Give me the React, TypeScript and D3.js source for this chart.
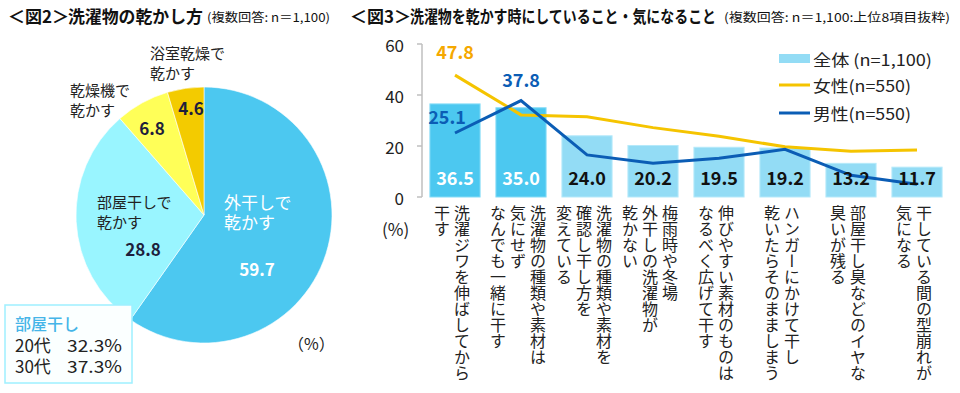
import React from 'react';
import * as d3 from 'd3';

// ---- data: fig 2 (pie) ----
const pieNames = ['外干しで乾かす', '部屋干しで乾かす', '乾燥機で乾かす', '浴室乾燥で乾かす'];
const pieValues = [59.7, 28.8, 6.8, 4.6];
const roomDryAges = ['20代', '30代'];
const roomDryRates = ['32.3%', '37.3%'];

// ---- data: fig 3 (bars + lines) ----
const categories = [
  '洗濯ジワを伸ばしてから|干す',
  '洗濯物の種類や素材は|気にせず|なんでも一緒に干す',
  '洗濯物の種類や素材を|確認し干し方を|変えている',
  '梅雨時や冬場|外干しの洗濯物が|乾かない',
  '伸びやすい素材のものは|なるべく広げて干す',
  'ハンガーにかけて干し|乾いたらそのまましまう',
  '部屋干し臭などのイヤな|臭いが残る',
  '干している間の型崩れが|気になる',
];
const totalValues = [36.5, 35.0, 24.0, 20.2, 19.5, 19.2, 13.2, 11.7];
const femaleValues = [47.8, 32.2, 31.5, 27.2, 23.8, 19.7, 17.9, 18.4];
const maleValues = [25.1, 37.8, 16.5, 13.2, 15.2, 18.7, 8.5, 5.0];
const yTicks = [0, 20, 40, 60];
const legendLabels = ['全体 (n=1,100)', '女性(n=550)', '男性(n=550)'];

const FONT = '"Noto Sans CJK JP", "Noto Sans", sans-serif';
const PIE_COLORS = ['#4cc8f0', '#99f5ff', '#ffff58', '#f3cb00'];
const BAR_DARK = '#4cc8f0';
const BAR_LIGHT = '#93dcf5';
const FEMALE = '#f5c400';
const MALE = '#0b5db5';

// label layout for the pie, relative to pie center
const pieLabelLayout = [
  { nx: 20, ny: -14, vx: 53, vy: 53, size: 17 },
  { nx: -107, ny: -14, vx: -61, vy: 33, size: 15 },
  { nx: -134, ny: -126, vx: -52, vy: -88, size: 15 },
  { nx: -54, ny: -163, vx: -13, vy: -108, size: 15 },
];

function PieChart() {
  const cx = 204, cy = 215, r = 128;
  const pie = d3.pie<number>().sort(null).value(d => d);
  const arcs = pie(pieValues);
  const arc = d3.arc<d3.PieArcDatum<number>>().innerRadius(0).outerRadius(r);

  const nameLines = (name: string) => {
    const i = name.indexOf('で');
    return [name.slice(0, i + 1), name.slice(i + 1)];
  };

  return (
    <g transform={`translate(${cx},${cy})`}>
      {arcs.map((a, i) => (
        <path key={i} d={arc(a) || ''} fill={PIE_COLORS[i]} stroke="#ffffff" strokeWidth={0.6} />
      ))}
      {arcs.map((a, i) => {
        const L = pieLabelLayout[i];
        const lines = nameLines(pieNames[i]);
        return (
          <g key={'l' + i}>
            {lines.map((t, j) => (
              <text key={j} x={L.nx} y={L.ny + j * 20} fontSize={L.size} fill={i === 0 ? '#fff' : '#222'}
                dominantBaseline="central" textAnchor="start">{t}</text>
            ))}
            <text x={L.vx} y={L.vy} fontSize={17} fontWeight="bold" fill={i === 0 ? '#fff' : '#1e1e3c'}
              textAnchor="middle" dominantBaseline="central">{pieValues[i].toFixed(1)}</text>
          </g>
        );
      })}
    </g>
  );
}

function BarChart() {
  const x = d3.scaleBand<string>().domain(categories).range([422, 950]).paddingInner(0.24).paddingOuter(0.12);
  const y = d3.scaleLinear().domain([0, 60]).range([197, 44]);
  const cx = (i: number) => (x(categories[i]) || 0) + x.bandwidth() / 2;

  const line = d3.line<number>().x((_, i) => cx(i)).y(d => y(d));

  return (
    <g>
      {/* axis */}
      <line x1={422} x2={422} y1={y(0)} y2={y(60)} stroke="#bfbfbf" strokeWidth={1.5} />
      {yTicks.map(t => (
        <g key={t}>
          <line x1={417} x2={422} y1={y(t)} y2={y(t)} stroke="#bfbfbf" strokeWidth={1.5} />
          <text x={404} y={y(t)} fontSize={17} textAnchor="end" dominantBaseline="central" fill="#222">{t}</text>
        </g>
      ))}
      <text x={382} y={228} fontSize={17} dominantBaseline="central" fill="#222">(%)</text>

      {/* bars */}
      {totalValues.map((v, i) => (
        <rect key={i} x={x(categories[i])} y={y(v)} width={x.bandwidth()} height={y(0) - y(v)}
          fill={i < 2 ? BAR_DARK : BAR_LIGHT} stroke={i < 2 ? '#86dcf7' : '#b5e9fa'} strokeWidth={1} />
      ))}

      {/* lines */}
      <path d={line(femaleValues) || ''} fill="none" stroke={FEMALE} strokeWidth={3} />
      <path d={line(maleValues) || ''} fill="none" stroke={MALE} strokeWidth={3} />

      {/* bar values */}
      {totalValues.map((v, i) => (
        <text key={'v' + i} x={cx(i)} y={177} fontSize={18} fontWeight="bold" textAnchor="middle"
          dominantBaseline="central" fill={i < 2 ? '#fff' : '#111'}>{v.toFixed(1)}</text>
      ))}

      {/* line callouts */}
      <text x={cx(0)} y={y(femaleValues[0]) - 24} fontSize={18} fontWeight="bold" textAnchor="middle"
        dominantBaseline="central" fill="#f5a800">{femaleValues[0].toFixed(1)}</text>
      <text x={cx(1)} y={y(maleValues[1]) - 22} fontSize={18} fontWeight="bold" textAnchor="middle"
        dominantBaseline="central" fill={MALE}>{maleValues[1].toFixed(1)}</text>
      <text x={cx(0) - 8} y={y(maleValues[0]) - 17} fontSize={18} fontWeight="bold" textAnchor="middle"
        dominantBaseline="central" fill={MALE}>{maleValues[0].toFixed(1)}</text>

      {/* category labels, vertical */}
      {categories.map((c, i) => {
        const cols = c.split('|');
        const mid = cx(i) - 3;
        return cols.map((t, j) => (
          <text key={i + '-' + j} x={mid + ((cols.length - 1) / 2) * 20 - j * 20} y={205}
            fontSize={16} fill="#222" style={{ writingMode: 'vertical-rl' } as any}>{t}</text>
        ));
      })}

      {/* legend */}
      <rect x={779} y={54} width={31} height={9} fill={BAR_LIGHT} />
      <text x={813} y={59} fontSize={16} dominantBaseline="central" fill="#222"
        textLength={119} lengthAdjust="spacingAndGlyphs">{legendLabels[0]}</text>
      <line x1={779} x2={810} y1={85} y2={85} stroke={FEMALE} strokeWidth={3} />
      <text x={813} y={85} fontSize={16} dominantBaseline="central" fill="#222"
        textLength={98} lengthAdjust="spacingAndGlyphs">{legendLabels[1]}</text>
      <line x1={779} x2={810} y1={113} y2={113} stroke={MALE} strokeWidth={3} />
      <text x={813} y={113} fontSize={16} dominantBaseline="central" fill="#222"
        textLength={98} lengthAdjust="spacingAndGlyphs">{legendLabels[2]}</text>
    </g>
  );
}

export default function App() {
  return (
    <svg width={960} height={393} style={{ position: 'absolute', left: 0, top: 0, background: '#fff' }}
      fontFamily={FONT}>
      {/* titles */}
      <text x={8} y={23} fontSize={17} fontWeight="bold" fill="#111">＜図2＞</text>
      <text x={68} y={23} fontSize={17} fontWeight="bold" fill="#111" textLength={135} lengthAdjust="spacingAndGlyphs">洗濯物の乾かし方</text>
      <text x={207} y={22} fontSize={12} fill="#111" textLength={123} lengthAdjust="spacingAndGlyphs">(複数回答: n＝1,100)</text>

      <text x={350} y={23} fontSize={17} fontWeight="bold" fill="#111">＜図3＞</text>
      <text x={410} y={23} fontSize={17} fontWeight="bold" fill="#111" textLength={306} lengthAdjust="spacingAndGlyphs">洗濯物を乾かす時にしていること・気になること</text>
      <text x={724} y={22} fontSize={12} fill="#111" textLength={226} lengthAdjust="spacingAndGlyphs">(複数回答: n＝1,100:上位8項目抜粋)</text>

      <PieChart />

      {/* 部屋干し callout box */}
      <rect x={5} y={305} width={127} height={78} fill="#fbffff" stroke="#9ef0ff" strokeWidth={1.5} />
      <text x={15} y={323} fontSize={16} fontWeight={500} fill="#45b5e8" dominantBaseline="central">部屋干し</text>
      {roomDryAges.map((a, i) => (
        <g key={a}>
          <text x={15} y={344 + i * 21} fontSize={17} fill="#222" dominantBaseline="central">{a}</text>
          <text x={67} y={344 + i * 21} fontSize={17} fill="#222" dominantBaseline="central"
            textLength={55} lengthAdjust="spacingAndGlyphs">{roomDryRates[i]}</text>
        </g>
      ))}
      <text x={288} y={343} fontSize={16} fill="#222" dominantBaseline="central">（%）</text>

      <BarChart />
    </svg>
  );
}
